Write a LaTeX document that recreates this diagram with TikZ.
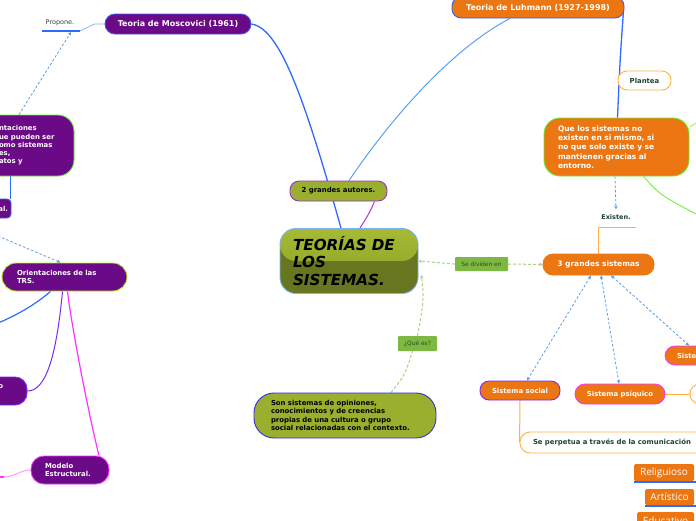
\documentclass[tikz,border=0pt]{standalone}
\usepackage{fontspec}
\setmainfont{DejaVu Sans}
\newfontfamily\osans{Open Sans}
\usetikzlibrary{arrows.meta,backgrounds}
\definecolor{purp}{HTML}{6A0A86}
\definecolor{oran}{HTML}{EB7612}
\definecolor{oliv}{HTML}{9BAF2E}
\definecolor{olivtop}{HTML}{A6BA34}
\definecolor{olivmid}{HTML}{8A9D28}
\definecolor{olivdark}{HTML}{67761F}
\definecolor{bordblue}{HTML}{3A5CF0}
\definecolor{lineblue}{HTML}{2F6BFF}
\definecolor{lightblue}{HTML}{5AA0F5}
\definecolor{dashblue}{HTML}{5B9BE8}
\definecolor{grn}{HTML}{66EE33}
\definecolor{yg}{HTML}{BCE62A}
\definecolor{mag}{HTML}{FF33FF}
\definecolor{vio}{HTML}{7A2CF5}
\definecolor{autb}{HTML}{9932CC}
\definecolor{lorange}{HTML}{FFB040}
\definecolor{dkgreen}{HTML}{1B4433}
\definecolor{labg}{HTML}{7DB843}
\definecolor{labt}{HTML}{2E4A1E}
\definecolor{dgreen}{HTML}{A9D384}
\definecolor{sonb}{HTML}{3030E0}
\tikzset{
  base/.style={draw, line width=0.9pt, inner sep=0pt, font=\bfseries\fontsize{6.9}{8.3}\selectfont},
  purpbox/.style={base, fill=purp, text=white},
  orbox/.style={base, fill=oran, text=white},
  olbox/.style={base, fill=oliv, text=black},
  whbox/.style={base, fill=white, draw=lorange, text=dkgreen},
  lab/.style={fill=labg, text=labt, inner sep=0pt, rounded corners=1pt, font=\fontsize{5.9}{7}\selectfont},
  tag/.style={fill=oran, text=white, inner sep=0pt, rounded corners=1.5pt, font=\osans\fontsize{10}{12}\selectfont},
  conn/.style={line width=1pt},
  dtip/.style={-{Stealth[length=3.5pt,width=3.5pt]}},
  btip/.style={{Stealth[length=3.5pt,width=3.5pt]}-{Stealth[length=3.5pt,width=3.5pt]}},
  dotl/.style={dash pattern=on 2.5pt off 2pt, line width=0.8pt},
}
\begin{document}
\begin{tikzpicture}[x=1pt,y=-1pt]
\useasboundingbox (0,0) rectangle (696,520);

% ---------- nodes ----------
\node[purpbox, draw=bordblue, rounded corners=10pt, minimum width=146pt, minimum height=20pt, font=\bfseries\fontsize{8}{9}\selectfont] (mosc) at (178,24) {Teoria de Moscovici (1961)};
\node[inner sep=0pt, font=\fontsize{6.5}{7}\selectfont, text=black!75] (prop) at (60,23) {Propone.};
\coordinate (propL) at (42,31);
\coordinate (propR) at (80,31);
\coordinate (propA) at (71,32);

\node[purpbox, draw=grn, rounded corners=16pt, minimum width=94pt, minimum height=61pt, text width=56pt, inner xsep=19pt, align=left] (repr) at (27,145.5) {ntaciones\\ue pueden ser\\omo sistemas\\es,\\atos y};

\node[purpbox, draw=bordblue, rounded corners=4pt, minimum width=32pt, minimum height=19pt, text width=26pt, inner xsep=3pt, align=right] (alb) at (-5,208.5) {al.};

\node[purpbox, draw=yg, rounded corners=14pt, minimum width=125pt, minimum height=28pt, text width=95pt, inner xsep=15pt, align=left] (orient) at (64.5,277) {Orientaciones de las\\TRS.};

\node[purpbox, draw=vio, rounded corners=12pt, minimum width=67pt, minimum height=28pt, text width=19pt, inner xsep=24pt, align=right] (obox) at (-6.5,391) {o\\[1pt]\phantom{o}};

\node[purpbox, draw=mag, rounded corners=13pt, minimum width=78pt, minimum height=28pt, text width=50pt, inner xsep=14pt, align=left] (model) at (70,470) {Modelo\\Estructural.};

\node[base, draw=lightblue!80, fill=olivdark, rounded corners=16pt, minimum width=138pt, minimum height=65pt, text width=112pt, inner xsep=13pt, align=left, font=\bfseries\itshape\fontsize{15.2}{17.5}\selectfont,
  path picture={\shade[top color=olivtop, bottom color=olivmid] (path picture bounding box.north west) rectangle (path picture bounding box.east);}] (central) at (349,261) {TEORÍAS DE\\LOS\\SISTEMAS.};

\node[olbox, draw=autb, rounded corners=9pt, minimum width=97pt, minimum height=20pt] (autores) at (338.5,191) {2 grandes autores.};

\node[orbox, draw=bordblue, rounded corners=9pt, minimum width=172pt, minimum height=21pt, font=\bfseries\fontsize{8}{9}\selectfont] (luh) at (538,7.5) {Teoria de Luhmann (1927-1998)};

\node[whbox, rounded corners=9pt, minimum width=53pt, minimum height=19pt] (plant) at (644.5,80.5) {Plantea};

\node[orbox, draw=grn, rounded corners=16pt, minimum width=145pt, minimum height=58pt, text width=117pt, inner xsep=14pt, align=left, font=\bfseries\fontsize{7.5}{9.4}\selectfont] (que) at (616.5,147) {Que los sistemas no\\existen en si mismo, si\\no que solo existe y se\\mantienen gracias al\\entorno.};

\node[inner sep=0pt, text=dkgreen, font=\bfseries\fontsize{6.5}{7}\selectfont] (exist) at (616,217) {Existen.};
\coordinate (exL) at (598,227);
\coordinate (exR) at (636,227);

\node[orbox, draw=oran, rounded corners=10pt, minimum width=111pt, minimum height=21pt, font=\bfseries\fontsize{7.5}{9}\selectfont] (tres) at (598.5,264.5) {3 grandes sistemas};

\node[lab, minimum width=53pt, minimum height=14pt] (divid) at (481.5,264) {Se dividen en};

\node[orbox, draw=vio, rounded corners=9pt, minimum width=80pt, minimum height=19pt] (social) at (520,390.5) {Sistema social};
\node[orbox, draw=mag, rounded corners=10pt, minimum width=90pt, minimum height=20pt] (psiq) at (620,394) {Sistema psíquico};
\node[orbox, draw=mag, rounded corners=10pt, minimum width=55pt, minimum height=19pt, text width=31pt, inner xsep=12pt, align=left] (siste) at (692.5,355.5) {Siste};
\node[base, fill=white, draw=lorange, rounded corners=10pt, minimum width=40pt, minimum height=20pt] (circ) at (710,394) {};

\node[whbox, rounded corners=10pt, minimum width=200pt, minimum height=21pt, text width=174pt, inner xsep=13pt, align=left] (perp) at (620,442.5) {Se perpetua a través de la comunicación};

\node[tag, minimum width=60pt, minimum height=17pt] (relig) at (664,472.5) {Religuioso};
\node[tag, minimum width=49pt, minimum height=16pt] (artis) at (669.5,497) {Artístico};
\node[tag, minimum width=57pt, minimum height=18pt] (educ) at (665.5,521) {Educativo};

\node[olbox, draw=sonb, rounded corners=20pt, minimum width=182pt, minimum height=45pt, text width=148pt, inner xsep=17pt, align=left] (son) at (345,415.5) {Son sistemas de opiniones,\\conocimientos y de creencias\\propias de una cultura o grupo\\social relacionadas con el contexto.};

\node[lab, minimum width=39pt, minimum height=15pt] (quees) at (417.5,343.5) {¿Qué es?};

\coordinate (edgeL) at (-2,236);
\coordinate (edgeB) at (-2,323);
\coordinate (edgeP) at (4,477);
\coordinate (edgePL) at (-2,477);
\coordinate (edgeG1) at (700,121);
\coordinate (edgeG2) at (700,216);

% underlines (drawn above)
\draw[lineblue, line width=1.5pt] (propL) -- (propR);
\draw[lineblue, line width=1.2pt] ([yshift=-0.8pt]relig.south west) -- ++(63,0);
\draw[lineblue, line width=1.2pt] ([yshift=-0.8pt]artis.south west) -- ++(52,0);

% ---------- connectors ----------
\begin{scope}[on background layer]
\fill[white] (0,0) rectangle (696,520);
\draw[lightblue!80, line width=0.7pt] (mosc.west) -- ++(-10,0) -- (propR);
\draw[dashblue, dotl, dtip] ([xshift=-8pt]repr.north) -- (propA);
\draw[lineblue, conn] ([xshift=-17pt]repr.south) -- ([xshift=15pt]alb.north);
\draw[dashblue, dotl, dtip] (edgeL) -- ([xshift=-4pt]orient.north);
\draw[lineblue, line width=1.2pt] ([xshift=-14pt]orient.south) .. controls (35,305) and (15,316) .. (edgeB);
\draw[vio, conn] ([xshift=-2pt]orient.south) .. controls (56,360) and (45,391) .. (obox.east);
\draw[mag, line width=1.2pt] ([xshift=3pt]orient.south) .. controls (72,330) and (90,420) .. ([xshift=29pt]model.north);
\draw[mag!50, conn] (model.west) .. controls (20,470) and (15,477) .. (edgeP);
\draw[mag, line width=1.5pt] (edgePL) -- (edgeP);

\draw[lineblue, line width=1.3pt] ([xshift=-8pt]central.north) .. controls (305,100) and (280,28) .. (mosc.east);
\draw[lightblue, line width=1pt] ([xshift=10.5pt]autores.north) .. controls (390,120) and (450,50) .. ([xshift=-28pt]luh.south);
\draw[autb!70!mag, conn] ([xshift=36pt]autores.south) .. controls (370,212) .. ([xshift=11pt]central.north);
\draw[lineblue, line width=1.3pt] ([yshift=-4pt,xshift=-1pt]luh.east) .. controls (620,60) .. ([xshift=1pt]que.north);
\draw[grn!60!yellow, line width=0.8pt] ([yshift=20pt]que.east) -- (edgeG1);
\draw[grn, line width=0.8pt] ([xshift=27pt]que.south) .. controls (660,195) .. (edgeG2);
\draw[dashblue, dotl, dtip] ([xshift=-1.5pt]que.south) -- ([yshift=5pt]exist.north);
\draw[lorange, line width=1pt] (exL) -- (exR);
\draw[lorange, line width=1pt] (exL) -- (exL |- tres.north);
\draw[dgreen, dash pattern=on 3pt off 2pt, line width=1pt, dtip] (divid.east) -- (tres.west);
\draw[dgreen, dash pattern=on 3pt off 2pt, line width=1pt, dtip] (divid.west) -- (central.east);
\draw[dashblue, dotl, btip] ([xshift=-7.5pt]tres.south) -- ([xshift=7pt]social.north);
\draw[dashblue, dotl, btip] ([xshift=2.5pt]tres.south) -- ([xshift=-1pt]psiq.north);
\draw[dashblue, dotl, btip] ([xshift=12.5pt]tres.south) -- ([xshift=-3.5pt]siste.north);
\draw[lorange, conn] (psiq.east) -- (circ.west);
\draw[lorange, conn] (social.south) -- (perp.west);
\draw[dgreen, dash pattern=on 3pt off 2pt, line width=1pt] ([xshift=46pt]son.north) .. controls (405,375) .. ([xshift=-5pt]quees.south);
\draw[dgreen, dash pattern=on 3pt off 2pt, line width=1pt, dtip] (quees.north) .. controls (424,300) .. ([xshift=3pt,yshift=-14pt]central.east);
\end{scope}
\end{tikzpicture}
\end{document}
